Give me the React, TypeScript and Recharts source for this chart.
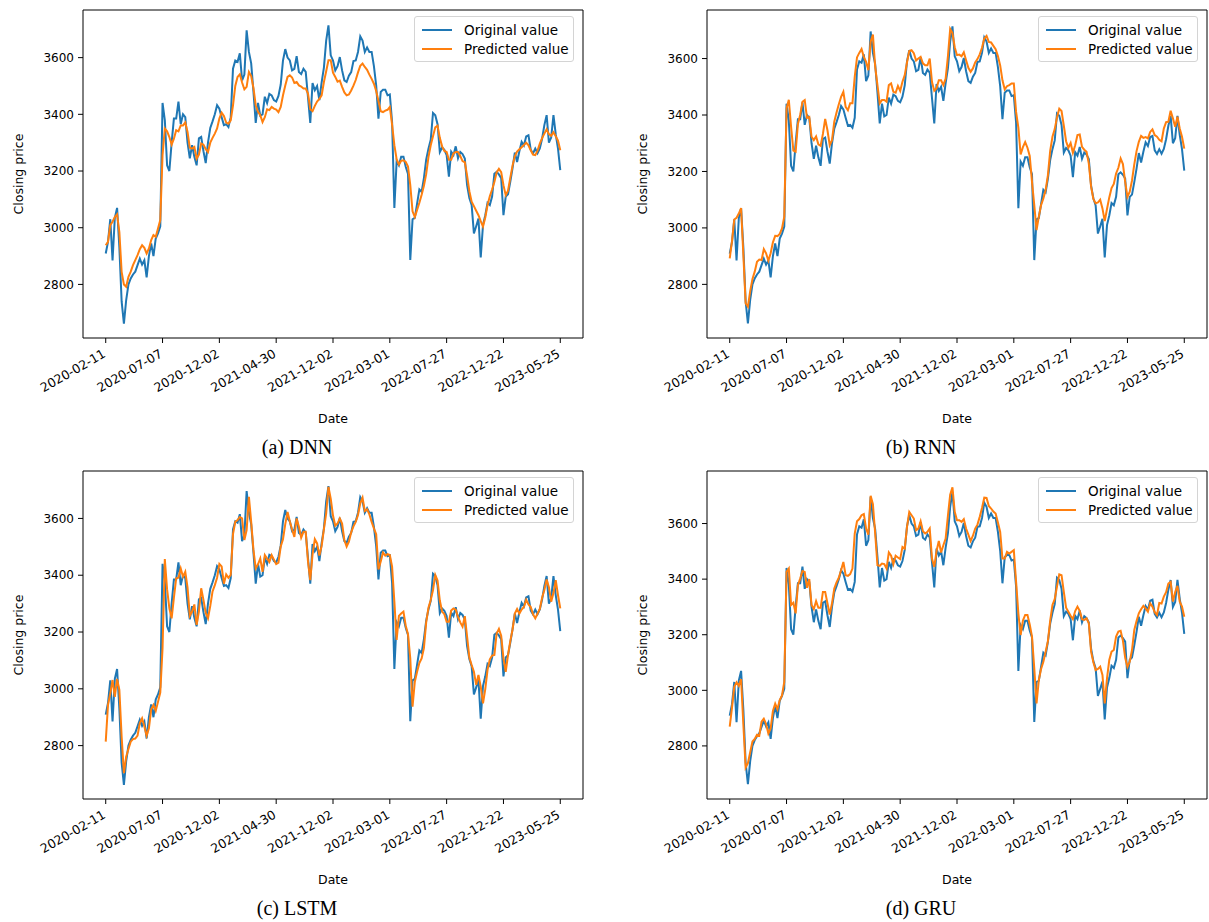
import React from 'react';
import { LineChart, Line, XAxis, YAxis, ReferenceArea, Legend } from 'recharts';

// trading-day index of each sample (one sample every 4 sessions)
const STEP = 4;

const tickDays = [0, 100, 200, 300, 400, 500, 600, 700, 800];
const tickDates = [
  '2020-02-11', '2020-07-07', '2020-12-02', '2021-04-30', '2021-12-02',
  '2022-03-01', '2022-07-27', '2022-12-22', '2023-05-25',
];
const priceTicks = [2800, 3000, 3200, 3400, 3600];

const originalValue = [
  2909, 2950, 3030, 2885, 3035, 3070, 2930, 2740, 2662, 2745,
  2800, 2821, 2835, 2845, 2868, 2891, 2870, 2885, 2825, 2900,
  2945, 2900, 2962, 2980, 3005, 3440, 3380, 3220, 3200, 3300,
  3385, 3385, 3445, 3365, 3400, 3390, 3300, 3245, 3291, 3250,
  3220, 3315, 3320, 3270, 3228, 3300, 3352, 3375, 3400, 3432,
  3420, 3390, 3362, 3365, 3355, 3390, 3561, 3590, 3585, 3615,
  3520, 3540, 3696, 3620, 3580, 3480, 3370, 3440, 3395, 3400,
  3462, 3440, 3472, 3467, 3450, 3445, 3465, 3505, 3590, 3630,
  3600, 3590, 3555, 3560, 3605, 3549, 3542, 3561, 3550, 3460,
  3370, 3510, 3485, 3500, 3450, 3513, 3565, 3660, 3714, 3608,
  3590, 3555, 3570, 3602, 3555, 3520, 3514, 3536, 3549, 3588,
  3590, 3620, 3675, 3660, 3620, 3636, 3620, 3620, 3570, 3502,
  3385, 3479, 3487, 3487, 3467, 3470, 3373, 3070, 3235, 3220,
  3250, 3250, 3215, 3190, 2886, 3030, 3035, 3085, 3135, 3126,
  3175, 3240, 3279, 3310, 3405, 3397, 3365, 3267, 3283, 3275,
  3256, 3180, 3268, 3256, 3287, 3245, 3267, 3260, 3244, 3150,
  3105, 3080, 2980, 3005, 3032, 2895, 3010, 3044, 3088, 3080,
  3110, 3190, 3197, 3188, 3175, 3044, 3110, 3118, 3162, 3210,
  3265, 3232, 3270, 3303, 3290, 3322, 3326, 3275, 3262, 3279,
  3263, 3280, 3314, 3362, 3397, 3300, 3318, 3397, 3330, 3279,
  3203,
];

const dnnPredicted = [
  2938, 2950, 3009, 3021, 3038, 3047, 2985, 2844, 2800, 2792,
  2827, 2845, 2868, 2886, 2903, 2924, 2938, 2929, 2909, 2927,
  2956, 2974, 2968, 2997, 3027, 3256, 3350, 3340, 3320, 3293,
  3314, 3344, 3340, 3361, 3361, 3371, 3338, 3282, 3279, 3285,
  3244, 3258, 3297, 3293, 3277, 3267, 3300, 3317, 3332, 3350,
  3385, 3406, 3394, 3371, 3367, 3379, 3432, 3500, 3532, 3541,
  3512, 3488, 3497, 3549, 3535, 3493, 3432, 3409, 3397, 3373,
  3390, 3418, 3415, 3426, 3420, 3417, 3408, 3426, 3467, 3502,
  3532, 3538, 3530, 3511, 3514, 3502, 3498, 3491, 3491, 3473,
  3418, 3411, 3430, 3445, 3454, 3467, 3514, 3552, 3591, 3591,
  3547, 3532, 3515, 3519, 3497, 3477, 3467, 3470, 3484, 3501,
  3521, 3548, 3571, 3579, 3567, 3557, 3540, 3525, 3508, 3482,
  3447, 3411, 3408, 3413, 3416, 3426, 3364, 3291, 3242, 3223,
  3236, 3238, 3232, 3216, 3150, 3058, 3038, 3063, 3088, 3116,
  3148, 3189, 3249, 3291, 3323, 3354, 3360, 3317, 3287, 3271,
  3267, 3240, 3240, 3262, 3267, 3267, 3253, 3235, 3231, 3184,
  3129, 3092, 3076, 3060, 3044, 3023, 3004, 3036, 3080, 3111,
  3135, 3161, 3195, 3208, 3196, 3150, 3115, 3131, 3176, 3219,
  3252, 3269, 3277, 3284, 3292, 3300, 3291, 3273, 3258, 3256,
  3272, 3297, 3316, 3332, 3347, 3330, 3324, 3337, 3323, 3307,
  3273,
];

const rnnPredicted = [
  2892, 2953, 3030, 3036, 3051, 3070, 2904, 2733, 2721, 2776,
  2819, 2845, 2880, 2888, 2886, 2925, 2910, 2884, 2910, 2949,
  2972, 2971, 2979, 2998, 3040, 3423, 3454, 3358, 3274, 3270,
  3368, 3400, 3447, 3453, 3390, 3393, 3323, 3311, 3324, 3296,
  3291, 3333, 3386, 3346, 3293, 3311, 3376, 3409, 3438, 3464,
  3482, 3429, 3417, 3442, 3442, 3535, 3604, 3620, 3634, 3606,
  3588, 3559, 3660, 3685, 3571, 3506, 3441, 3453, 3453, 3447,
  3506, 3512, 3482, 3479, 3503, 3485, 3518, 3541, 3586, 3627,
  3630, 3619, 3593, 3600, 3606, 3583, 3576, 3576, 3600, 3517,
  3486, 3495, 3523, 3523, 3506, 3529, 3608, 3705, 3690, 3640,
  3612, 3614, 3608, 3622, 3594, 3567, 3553, 3565, 3586, 3598,
  3615, 3638, 3671, 3680, 3659, 3657, 3645, 3633, 3609, 3576,
  3523, 3491, 3502, 3506, 3512, 3512, 3411, 3355, 3260, 3286,
  3304, 3284, 3255, 3163, 3081, 2992, 3040, 3081, 3104, 3134,
  3187, 3273, 3323, 3350, 3392, 3422, 3414, 3362, 3307, 3284,
  3301, 3266, 3293, 3329, 3331, 3287, 3277, 3270, 3228, 3146,
  3103, 3087, 3090, 3100, 3069, 3024, 3067, 3108, 3141, 3156,
  3193, 3213, 3246, 3226, 3163, 3110, 3128, 3168, 3225, 3272,
  3305, 3326, 3319, 3322, 3317, 3340, 3349, 3329, 3323, 3312,
  3307, 3352, 3375, 3376, 3415, 3388, 3358, 3394, 3352, 3323,
  3281,
];

const lstmPredicted = [
  2814, 2943, 2984, 3031, 2972, 3035, 2996, 2832, 2703, 2761,
  2788, 2814, 2823, 2825, 2835, 2879, 2896, 2867, 2835, 2861,
  2928, 2943, 2922, 2954, 2987, 3143, 3457, 3350, 3283, 3248,
  3321, 3389, 3391, 3424, 3395, 3412, 3356, 3257, 3272, 3297,
  3225, 3272, 3354, 3313, 3267, 3248, 3292, 3343, 3365, 3391,
  3440, 3431, 3370, 3403, 3391, 3401, 3545, 3588, 3594, 3605,
  3600, 3524, 3559, 3676, 3588, 3489, 3424, 3438, 3459, 3412,
  3471, 3459, 3447, 3471, 3455, 3439, 3444, 3501, 3527, 3580,
  3623, 3590, 3561, 3535, 3600, 3571, 3532, 3553, 3553, 3448,
  3383, 3473, 3527, 3512, 3469, 3503, 3562, 3618, 3711, 3670,
  3610, 3574, 3582, 3600, 3582, 3524, 3501, 3518, 3551, 3572,
  3588, 3612, 3653, 3673, 3626, 3632, 3614, 3588, 3565, 3544,
  3420, 3448, 3480, 3469, 3474, 3471, 3430, 3307, 3172, 3257,
  3265, 3272, 3222, 3192, 3107, 2937, 3025, 3060, 3091, 3107,
  3143, 3234, 3286, 3313, 3348, 3401, 3381, 3311, 3272, 3263,
  3236, 3236, 3276, 3283, 3279, 3253, 3234, 3219, 3256, 3184,
  3110, 3084, 3060, 3014, 3049, 3008, 2949, 2999, 3067, 3104,
  3117, 3119, 3195, 3211, 3187, 3107, 3060, 3119, 3168, 3209,
  3265, 3281, 3265, 3279, 3288, 3314, 3297, 3288, 3263, 3248,
  3265, 3281, 3321, 3348, 3385, 3358, 3307, 3337, 3383, 3330,
  3283,
];

const gruPredicted = [
  2869, 2938, 3013, 3029, 3016, 3040, 2876, 2722, 2738, 2777,
  2816, 2825, 2840, 2837, 2887, 2898, 2879, 2844, 2863, 2926,
  2952, 2932, 2965, 2982, 3030, 3426, 3438, 3307, 3315, 3277,
  3378, 3402, 3429, 3426, 3369, 3400, 3307, 3292, 3321, 3297,
  3297, 3354, 3354, 3313, 3273, 3313, 3366, 3388, 3405, 3432,
  3462, 3414, 3412, 3418, 3438, 3564, 3608, 3616, 3630, 3634,
  3582, 3560, 3700, 3670, 3564, 3450, 3448, 3456, 3454, 3438,
  3496, 3484, 3454, 3484, 3478, 3472, 3516, 3510, 3588, 3642,
  3630, 3618, 3576, 3582, 3608, 3572, 3564, 3570, 3582, 3474,
  3444, 3501, 3537, 3496, 3522, 3546, 3628, 3704, 3730, 3642,
  3612, 3612, 3606, 3616, 3582, 3560, 3537, 3556, 3582, 3596,
  3624, 3656, 3693, 3692, 3663, 3654, 3643, 3636, 3604, 3570,
  3474, 3474, 3498, 3492, 3498, 3504, 3390, 3277, 3199, 3251,
  3271, 3271, 3237, 3193, 3079, 2953, 3037, 3077, 3103, 3139,
  3177, 3251, 3307, 3328, 3374, 3417, 3414, 3354, 3297, 3283,
  3268, 3256, 3285, 3301, 3286, 3256, 3253, 3259, 3241, 3139,
  3101, 3073, 3077, 3085, 3055, 2953, 3043, 3109, 3139, 3145,
  3193, 3211, 3214, 3179, 3117, 3084, 3103, 3145, 3217, 3249,
  3277, 3292, 3304, 3295, 3283, 3313, 3301, 3281, 3271, 3314,
  3312, 3337, 3353, 3384, 3390, 3319, 3354, 3376, 3319, 3301,
  3265,
];

const BLUE = '#1f77b4';
const ORANGE = '#ff7f0e';
const SANS = '"DejaVu Sans", Verdana, sans-serif';
const SERIF = '"Liberation Serif", "Times New Roman", serif';

const legendItems = [
  { name: 'Original value', color: BLUE },
  { name: 'Predicted value', color: ORANGE },
];

const panels = [
  { caption: '(a) DNN', pred: dnnPredicted, domain: [2611, 3768], left: 0, top: 0 },
  { caption: '(b) RNN', pred: rnnPredicted, domain: [2610, 3772], left: 624, top: 0 },
  { caption: '(c) LSTM', pred: lstmPredicted, domain: [2612, 3767], left: 0, top: 461 },
  { caption: '(d) GRU', pred: gruPredicted, domain: [2609, 3789], left: 624, top: 461 },
];

const DateTick = (props: any) => {
  const { x, y, payload } = props;
  const label = tickDates[tickDays.indexOf(payload.value)];
  const ax = x - 4;
  return (
    <text
      x={ax}
      y={y}
      dy="0.76em"
      textAnchor="end"
      transform={`rotate(-30 ${ax} ${y})`}
      fontSize={12.5}
      fontFamily={SANS}
      fill="#000"
    >
      {label}
    </text>
  );
};

const LegendBox = () => (
  <div
    style={{
      width: 160,
      height: 46,
      boxSizing: 'border-box',
      border: '1px solid #d4d4d4',
      borderRadius: 3,
      background: 'rgba(255,255,255,0.8)',
      padding: '3px 0 0 7px',
      fontFamily: SANS,
      fontSize: 13.5,
      color: '#000',
    }}
  >
    {legendItems.map((item) => (
      <div key={item.name} style={{ display: 'flex', alignItems: 'center', height: 19.5 }}>
        <span style={{ width: 30, borderTop: `2px solid ${item.color}`, marginRight: 12 }} />
        <span style={{ whiteSpace: 'nowrap' }}>{item.name}</span>
      </div>
    ))}
  </div>
);

const Panel = ({ caption, pred, domain, left, top }: any) => {
  const rows = originalValue.map((v, k) => ({ day: k * STEP, original: v, predicted: pred[k] }));
  return (
    <div style={{ position: 'absolute', left, top, width: 600, height: 461 }}>
      <LineChart width={585} height={418} data={rows} margin={{ top: 10, right: 2, left: 0, bottom: 0 }}>
        <XAxis
          dataKey="day"
          type="number"
          domain={[-40, 840]}
          ticks={tickDays}
          interval={0}
          height={80}
          tickSize={5}
          tickMargin={5}
          axisLine={false}
          tickLine={{ stroke: '#000' }}
          tick={<DateTick />}
          allowDataOverflow
        />
        <YAxis
          type="number"
          domain={domain}
          ticks={priceTicks}
          width={83}
          tickSize={5}
          tickMargin={4}
          axisLine={false}
          tickLine={{ stroke: '#000' }}
          tick={{ fontSize: 12, fill: '#000', fontFamily: SANS }}
          allowDataOverflow
        />
        <ReferenceArea
          x1={-40}
          x2={840}
          y1={domain[0]}
          y2={domain[1]}
          fill="none"
          stroke="#000"
          strokeWidth={1}
          ifOverflow="visible"
        />
        <Line
          type="linear"
          dataKey="original"
          stroke={BLUE}
          strokeWidth={2}
          dot={false}
          isAnimationActive={false}
        />
        <Line
          type="linear"
          dataKey="predicted"
          stroke={ORANGE}
          strokeWidth={2}
          dot={false}
          isAnimationActive={false}
        />
        <Legend
          layout="vertical"
          align="center"
          verticalAlign="middle"
          content={<LegendBox />}
          wrapperStyle={{ left: 414, top: 16, width: 160, height: 46 }}
        />
      </LineChart>
      <div
        style={{
          position: 'absolute',
          left: 17.5,
          top: 174,
          transform: 'translate(-50%, -50%) rotate(-90deg)',
          whiteSpace: 'nowrap',
          fontFamily: SANS,
          fontSize: 12.5,
        }}
      >
        Closing price
      </div>
      <div
        style={{
          position: 'absolute',
          left: 333,
          top: 418,
          transform: 'translate(-50%, -50%)',
          fontFamily: SANS,
          fontSize: 12.5,
        }}
      >
        Date
      </div>
      <div
        style={{
          position: 'absolute',
          left: 297,
          top: 447,
          transform: 'translate(-50%, -50%)',
          whiteSpace: 'nowrap',
          fontFamily: SERIF,
          fontSize: 20,
        }}
      >
        {caption}
      </div>
    </div>
  );
};

export default function App() {
  return (
    <div style={{ position: 'absolute', left: 0, top: 0, width: 1209, height: 922, background: '#fff' }}>
      {panels.map((p) => (
        <Panel key={p.caption} {...p} />
      ))}
    </div>
  );
}
